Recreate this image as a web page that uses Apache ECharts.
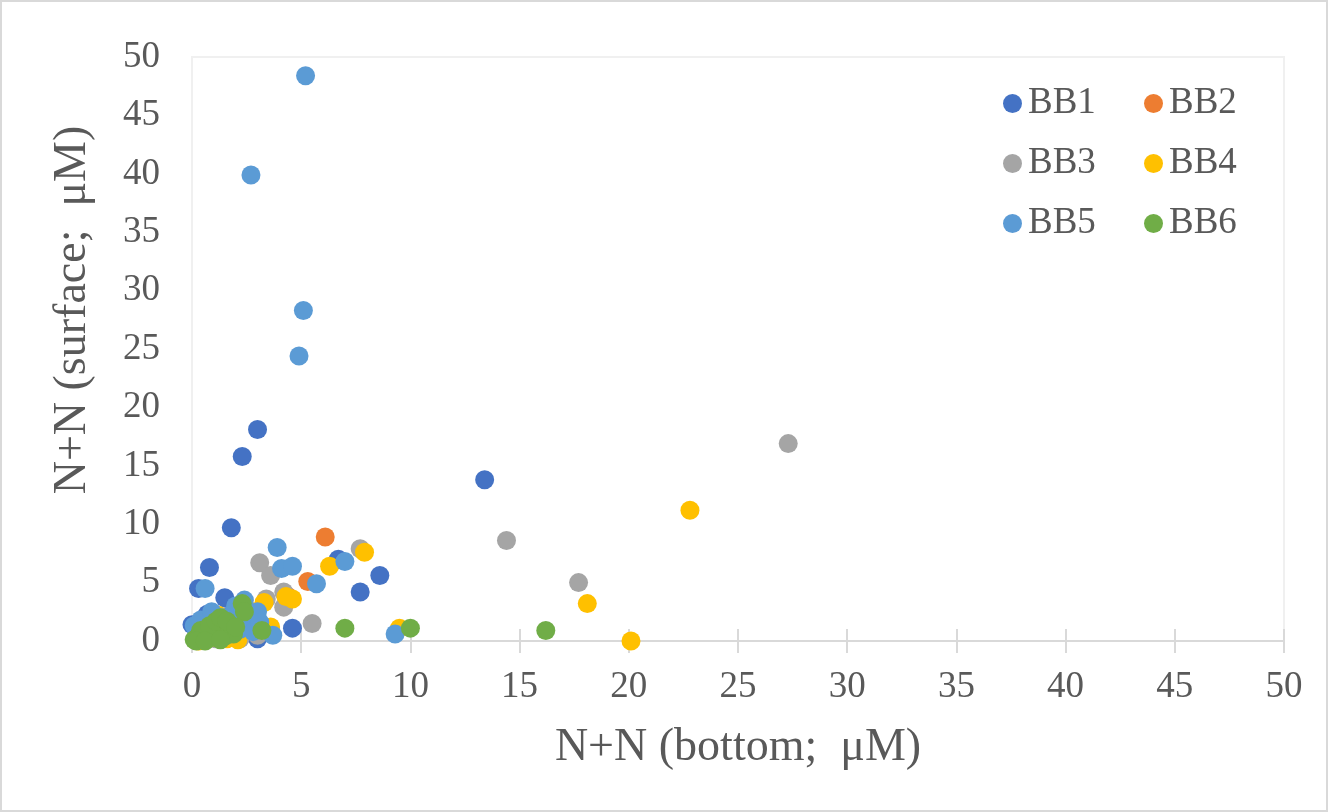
<!DOCTYPE html>
<html>
<head>
<meta charset="utf-8">
<title>N+N bottom vs surface</title>
<script src="https://cdn.jsdelivr.net/npm/echarts@6/dist/echarts.min.js"></script>
<style>
  html, body { margin: 0; padding: 0; background: #fff; }
  #main { width: 1328px; height: 812px; }
</style>
</head>
<body>
<div id="main"></div>
<script>
// 数据 [bottom, surface]
const bb1 = [[3.0, 18.1], [2.3, 15.8], [1.8, 9.7], [13.4, 13.8], [0.8, 6.3], [0.3, 4.5], [1.5, 3.7],
  [6.7, 7.0], [8.6, 5.6], [7.7, 4.2], [4.6, 1.1], [0.0, 1.4], [0.7, 2.3], [0.3, 0.9], [1.1, 0.4],
  [2.1, 1.3], [3.0, 0.2], [0.5, 0.1], [1.6, 2.1]];
const bb2 = [[6.1, 8.9], [5.3, 5.1], [0.2, 0.1], [0.6, 0.4], [1.2, 0.3], [1.7, 0.9], [2.6, 1.2],
  [4.4, 3.8], [0.9, 0.7]];
const bb3 = [[27.3, 16.9], [14.4, 8.6], [17.7, 5.0], [7.7, 7.9], [5.5, 1.5], [3.1, 6.7], [3.6, 5.6],
  [4.2, 2.9], [4.2, 4.2], [2.2, 0.2], [3.3, 0.9], [3.4, 3.6], [1.1, 0.2], [2.7, 1.4], [0.4, 0.2],
  [1.9, 2.1], [3.0, 0.5]];
const bb4 = [[22.8, 11.2], [20.1, 0.0], [18.1, 3.2], [7.9, 7.6], [6.3, 6.4], [0.3, 0.0], [0.9, 0.3],
  [1.6, 0.2], [2.1, 0.1], [2.5, 1.1], [3.3, 3.3], [2.8, 2.5], [1.2, 2.2], [4.3, 3.8], [4.6, 3.6],
  [3.6, 1.2], [9.5, 1.1]];
const bb5 = [[5.2, 48.4], [2.7, 39.9], [5.1, 28.3], [4.9, 24.4], [3.9, 8.0], [4.1, 6.2], [4.6, 6.4],
  [5.7, 4.9], [7.0, 6.8], [0.6, 4.5], [2.4, 3.5], [3.7, 0.5], [9.3, 0.6], [0.1, 1.3], [0.4, 1.8],
  [0.9, 2.5], [1.4, 2.0], [1.9, 2.4], [2.5, 1.9], [3.0, 2.5], [0.6, 0.8], [1.2, 1.1], [2.2, 1.0],
  [2.8, 0.8], [0.3, 0.3], [1.7, 0.6], [2.0, 3.0], [3.1, 1.6]];
const bb6 = [[16.2, 0.9], [10.0, 1.1], [7.0, 1.1], [3.2, 0.9], [2.3, 3.2], [2.4, 2.5], [0.1, 0.1],
  [0.3, 0.4], [0.5, 0.2], [0.7, 0.6], [0.9, 0.3], [1.0, 1.0], [1.2, 0.6], [1.4, 1.3], [1.5, 0.4],
  [1.7, 1.0], [1.9, 0.6], [0.4, 0.9], [0.8, 1.3], [1.1, 1.7], [1.3, 2.0], [1.6, 1.7], [2.0, 1.2],
  [0.2, 0.0], [0.6, 0.0], [1.3, 0.1]];

const seriesNames = ['BB1', 'BB2', 'BB3', 'BB4', 'BB5', 'BB6'];
const seriesData = [bb1, bb2, bb3, bb4, bb5, bb6];
const colors = ['#4472C4', '#ED7D31', '#A5A5A5', '#FFC000', '#5B9BD5', '#70AD47'];

const xTitle = 'N+N (bottom;  μM)';
const yTitle = 'N+N (surface;  μM)';

const font = 'Liberation Serif';
const textColor = '#595959';

const chart = echarts.init(document.getElementById('main'));

const legendText = { fontFamily: font, fontSize: 37, color: textColor, padding: [0, 0, 0, 1] };

const option = {
  animation: false,
  color: colors,
  // 外框
  graphic: [{
    type: 'rect',
    shape: { x: 1, y: 1, width: 1326, height: 810 },
    style: { fill: 'none', stroke: '#d9d9d9', lineWidth: 2 },
    silent: true
  }],
  grid: {
    left: 192, right: 44, top: 57, bottom: 171,
    containLabel: false, outerBoundsMode: 'none',
    show: true, borderColor: '#f0f0f0', borderWidth: 2, backgroundColor: 'transparent'
  },
  legend: [
    {
      orient: 'vertical', left: 998, top: 80, itemGap: 23,
      itemWidth: 19, itemHeight: 19, icon: 'circle',
      textStyle: legendText,
      data: ['BB1', 'BB3', 'BB5']
    },
    {
      orient: 'vertical', left: 1139, top: 80, itemGap: 23,
      itemWidth: 19, itemHeight: 19, icon: 'circle',
      textStyle: legendText,
      data: ['BB2', 'BB4', 'BB6']
    }
  ],
  xAxis: [
    {
      type: 'value', min: 0, max: 50, interval: 5,
      name: xTitle, nameLocation: 'middle', nameGap: 84,
      nameTextStyle: { fontFamily: font, fontSize: 46, color: textColor },
      axisLine: { show: true, onZero: false, lineStyle: { color: '#d9d9d9', width: 2 } },
      axisTick: { show: true, length: 12, lineStyle: { color: '#d9d9d9', width: 2 } },
      axisLabel: { fontFamily: font, fontSize: 37, color: textColor, margin: 28 },
      splitLine: { show: false }
    },
    {
      // 内侧刻度
      type: 'value', min: 0, max: 50, interval: 5, position: 'bottom',
      axisLine: { show: false },
      axisTick: { show: true, inside: true, length: 12, lineStyle: { color: '#d9d9d9', width: 2 } },
      axisLabel: { show: false },
      splitLine: { show: false }
    }
  ],
  yAxis: {
    type: 'value', min: 0, max: 50, interval: 5,
    name: yTitle, nameLocation: 'middle', nameGap: 96,
    nameTextStyle: { fontFamily: font, fontSize: 46, color: textColor, padding: [0, 0, 0, 78] },
    axisLine: { show: false },
    axisTick: { show: false },
    axisLabel: { fontFamily: font, fontSize: 37, color: textColor, margin: 32 },
    splitLine: { show: false }
  },
  series: seriesNames.map((name, i) => ({
    name: name,
    type: 'scatter',
    symbolSize: 19,
    data: seriesData[i],
    itemStyle: { color: colors[i], opacity: 1 }
  }))
};

chart.setOption(option);
</script>
</body>
</html>
